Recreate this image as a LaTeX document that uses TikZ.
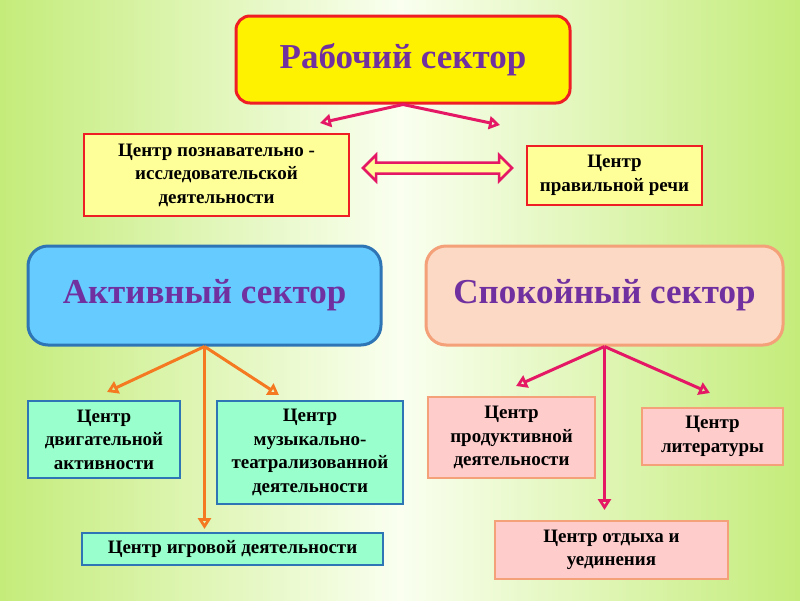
\documentclass[tikz,border=0pt]{standalone}
\usepackage{fontspec}
\setmainfont{Liberation Serif}
\usetikzlibrary{arrows.meta,shapes.arrows}

\definecolor{fonzel}{RGB}{196,236,122}
\definecolor{fonbel}{RGB}{250,255,240}
\definecolor{fiolet}{RGB}{112,48,160}
\definecolor{krasn}{RGB}{238,30,36}
\definecolor{malin}{RGB}{228,24,100}
\definecolor{oranzh}{RGB}{244,121,32}
\definecolor{sinij}{RGB}{46,117,182}
\definecolor{goluboj}{RGB}{102,204,255}
\definecolor{myata}{RGB}{153,255,204}
\definecolor{persik}{RGB}{252,217,196}
\definecolor{losos}{RGB}{244,160,120}
\definecolor{rozov}{RGB}{255,204,204}
\definecolor{zhelt}{RGB}{255,255,153}

\tikzset{
	sektor/.style={rounded corners=20pt, line width=3pt, text=fiolet, align=center,
		font=\fontsize{35}{40}\selectfont\bfseries},
	centr/.style={line width=2pt, align=center, inner sep=2pt,
		font=\fontsize{19}{23.5}\selectfont\bfseries},
	strelka/.style={line width=3pt, -{Triangle[open,length=11pt,width=13pt]}},
}

\begin{document}
\begin{tikzpicture}[x=1pt,y=-1pt]
	\shade[left color=fonzel, right color=fonzel, middle color=fonbel] (0,0) rectangle (800,600);
	\useasboundingbox (0,0) rectangle (800,600);

	% sectors
	\node[sektor, rounded corners=14pt, draw=krasn, fill=yellow, minimum width=334pt, minimum height=87pt] (rab) at (403,59.5) {Рабочий сектор};
	\node[sektor, draw=sinij, fill=goluboj, minimum width=353pt, minimum height=99pt] (akt) at (204.5,295.5) {Активный сектор};
	\node[sektor, draw=losos, fill=persik, minimum width=357pt, minimum height=99pt] (spok) at (604.5,295.5) {Спокойный сектор};

	% work centres
	\node[centr, draw=krasn, fill=zhelt, minimum width=265pt, minimum height=82pt] (pozn) at (216.5,175) {Центр познавательно -\\исследовательской\\деятельности};
	\node[centr, draw=krasn, fill=zhelt, minimum width=175pt, minimum height=59pt] (rech) at (614.5,175.5) {Центр\\правильной речи};
	\node[double arrow, draw=malin, fill=zhelt, line width=2.5pt, inner xsep=0pt, inner ysep=4.25pt,
		minimum height=149pt, double arrow head extend=7.5pt] (dvoj) at (437.5,168) {};

	% active centres
	\node[centr, draw=sinij, fill=myata, minimum width=152pt, minimum height=77pt] (dvig) at (104,439.5) {Центр\\двигательной\\активности};
	\node[centr, draw=sinij, fill=myata, minimum width=186pt, minimum height=103pt] (muz) at (310,452.5) {Центр\\музыкально-\\театрализованной\\деятельности};
	\node[centr, draw=sinij, fill=myata, minimum width=301pt, minimum height=32pt] (igr) at (232.5,549) {Центр игровой деятельности};

	% calm centres
	\node[centr, draw=losos, fill=rozov, minimum width=167pt, minimum height=81pt] (prod) at (511.5,437.5) {Центр\\продуктивной\\деятельности};
	\node[centr, draw=losos, fill=rozov, minimum width=141pt, minimum height=57pt] (lit) at (712.5,436.5) {Центр\\литературы};
	\node[centr, draw=losos, fill=rozov, minimum width=233pt, minimum height=58pt] (otd) at (611.5,550) {Центр отдыха и\\уединения};

	% arrow tips
	\coordinate (r1) at (320,123);
	\coordinate (r2) at (500,125);
	\coordinate (a1) at (107,392);
	\coordinate (a2) at (279,395);
	\coordinate (a3) at (204.5,529);
	\coordinate (s1) at (516,386);
	\coordinate (s2) at (710,393);
	\coordinate (s3) at (604.5,510);

	\draw[strelka, malin] (rab.south) -- (r1);
	\draw[strelka, malin] (rab.south) -- (r2);
	\draw[strelka, oranzh] (akt.south) -- (a1);
	\draw[strelka, oranzh] (akt.south) -- (a2);
	\draw[strelka, oranzh] (akt.south) -- (a3);
	\draw[strelka, malin] (spok.south) -- (s1);
	\draw[strelka, malin] (spok.south) -- (s2);
	\draw[strelka, malin] (spok.south) -- (s3);
\end{tikzpicture}
\end{document}
